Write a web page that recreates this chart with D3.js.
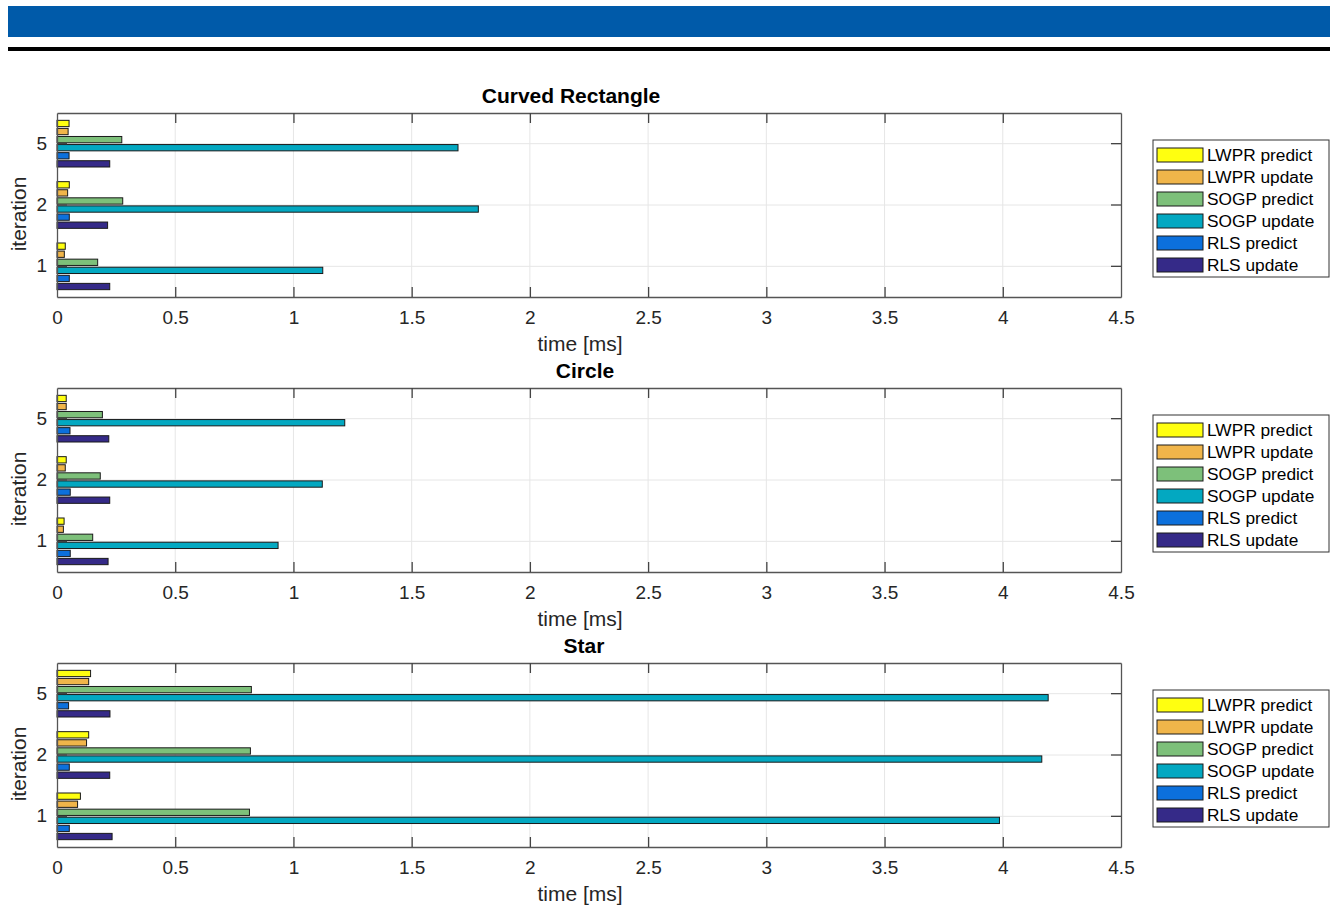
<!DOCTYPE html>
<html>
<head>
<meta charset="utf-8">
<script src="https://cdn.jsdelivr.net/npm/d3@7"></script>
<style>
  body { margin: 0; background: #fff; }
  svg { display: block; font-family: "Liberation Sans", Arial, Helvetica, sans-serif; }
</style>
</head>
<body>
<div id="main"></div>
<script>
// data
var iterations = ["1", "2", "5"];
var seriesNames = ["LWPR predict", "LWPR update", "SOGP predict", "SOGP update", "RLS predict", "RLS update"];
var seriesColors = ["#ffff10", "#f0b54a", "#7dc07a", "#03a8c1", "#0c70dc", "#352a88"];
var panelTitles = ["Curved Rectangle", "Circle", "Star"];
var xTicks = [0, 0.5, 1, 1.5, 2, 2.5, 3, 3.5, 4, 4.5];

// values per series, in iteration order 1, 2, 5
var curvedRect = [
  [0.035, 0.052, 0.051],
  [0.031, 0.045, 0.047],
  [0.172, 0.278, 0.274],
  [1.124, 1.782, 1.696],
  [0.052, 0.052, 0.051],
  [0.223, 0.214, 0.223]
];
var circle = [
  [0.030, 0.039, 0.039],
  [0.027, 0.035, 0.039],
  [0.151, 0.183, 0.192],
  [0.935, 1.122, 1.217],
  [0.056, 0.056, 0.055],
  [0.216, 0.223, 0.219]
];
var star = [
  [0.099, 0.134, 0.142],
  [0.087, 0.125, 0.134],
  [0.814, 0.818, 0.822],
  [3.986, 4.165, 4.192],
  [0.052, 0.052, 0.049],
  [0.233, 0.223, 0.224]
];
var panelData = [curvedRect, circle, star];

var W = 1330, H = 906;
var axLeft = 57, axRight = 1121, axH = 184;
var panelTops = [113, 388, 663];
var titleCenters = [571, 585, 584];
var tickLen = 10;

var svg = d3.select("#main").append("svg")
    .attr("width", W)
    .attr("height", H);

// header band + rule
svg.append("rect").attr("x", 8).attr("y", 6).attr("width", W - 8).attr("height", 31).attr("fill", "#005aa9");
svg.append("rect").attr("x", 8).attr("y", 47).attr("width", W - 8).attr("height", 4).attr("fill", "#000");

var x = d3.scaleLinear().domain([0, 4.5]).range([axLeft, axRight]);

panelData.forEach(function(data, p) {
  var top = panelTops[p], bottom = top + axH;
  var g = svg.append("g");

  var y = d3.scaleBand().domain(iterations).range([bottom, top]).padding(0);
  var step = y.bandwidth() * 0.79;
  var inner = d3.scaleBand().domain(d3.range(seriesNames.length))
      .range([-step / 2, step / 2])
      .paddingInner(0.22)
      .paddingOuter(0.11);

  // background
  g.append("rect").attr("x", axLeft).attr("y", top).attr("width", axRight - axLeft).attr("height", axH).attr("fill", "#fff");

  // grid
  g.selectAll(".vgrid").data(xTicks.slice(1, -1)).enter().append("line")
      .attr("x1", function(d) { return x(d); }).attr("x2", function(d) { return x(d); })
      .attr("y1", top).attr("y2", bottom)
      .attr("stroke", "#e6e6e6").attr("stroke-width", 1);
  g.selectAll(".hgrid").data(iterations).enter().append("line")
      .attr("x1", axLeft).attr("x2", axRight)
      .attr("y1", function(d) { return y(d) + y.bandwidth() / 2; })
      .attr("y2", function(d) { return y(d) + y.bandwidth() / 2; })
      .attr("stroke", "#e6e6e6").attr("stroke-width", 1);

  // bars
  seriesNames.forEach(function(name, s) {
    g.selectAll(".bar" + s).data(data[s]).enter().append("rect")
        .attr("x", x(0))
        .attr("y", function(d, i) { return y(iterations[i]) + y.bandwidth() / 2 + inner(s); })
        .attr("width", function(d) { return x(d) - x(0); })
        .attr("height", inner.bandwidth())
        .attr("fill", seriesColors[s])
        .attr("stroke", "#1a1a1a")
        .attr("stroke-width", 1);
  });

  // axes (ticks inward, box on)
  var xAxisB = d3.axisBottom(x).tickValues(xTicks).tickSizeInner(-tickLen).tickSizeOuter(0).tickPadding(14)
      .tickFormat(d3.format("~g"));
  var gb = g.append("g").attr("transform", "translate(0," + bottom + ")").call(xAxisB);
  var xAxisT = d3.axisTop(x).tickValues(xTicks).tickSizeInner(-tickLen).tickSizeOuter(0).tickFormat("");
  var gt = g.append("g").attr("transform", "translate(0," + top + ")").call(xAxisT);
  var yAxisL = d3.axisLeft(y).tickSizeInner(-tickLen).tickSizeOuter(0).tickPadding(10);
  var gl = g.append("g").attr("transform", "translate(" + axLeft + ",0)").call(yAxisL);
  var yAxisR = d3.axisRight(y).tickSizeInner(-tickLen).tickSizeOuter(0).tickFormat("");
  var gr = g.append("g").attr("transform", "translate(" + axRight + ",0)").call(yAxisR);

  [gb, gt, gl, gr].forEach(function(a) {
    a.select(".domain").attr("stroke", "#555").attr("stroke-width", 1.3);
    a.selectAll(".tick line").attr("stroke", "#444").attr("stroke-width", 1.3);
    a.selectAll(".tick text").attr("fill", "#262626").attr("font-size", 19).attr("font-family", null);
  });
  // remove ticks at the box corners
  [gb, gt].forEach(function(a) {
    a.selectAll(".tick").filter(function(d) { return d === 0 || d === 4.5; }).select("line").remove();
  });

  // labels
  g.append("text").attr("x", titleCenters[p]).attr("y", top - 10)
      .attr("text-anchor", "middle").attr("font-size", 21).attr("font-weight", "bold").attr("fill", "#000")
      .text(panelTitles[p]);
  g.append("text").attr("x", 580).attr("y", bottom + 54)
      .attr("text-anchor", "middle").attr("font-size", 21).attr("fill", "#262626")
      .text("time [ms]");
  g.append("text").attr("transform", "translate(26," + (top + axH / 2 + 9) + ") rotate(-90)")
      .attr("text-anchor", "middle").attr("font-size", 21).attr("fill", "#262626")
      .text("iteration");

  // legend
  var lg = g.append("g").attr("transform", "translate(1153," + (top + 27) + ")");
  lg.append("rect").attr("width", 176).attr("height", 137).attr("fill", "#fff").attr("stroke", "#333").attr("stroke-width", 1);
  var rows = lg.selectAll(".row").data(seriesNames).enter().append("g")
      .attr("transform", function(d, i) { return "translate(0," + (15 + i * 22) + ")"; });
  rows.append("rect").attr("x", 4).attr("y", -7).attr("width", 46).attr("height", 14)
      .attr("fill", function(d, i) { return seriesColors[i]; })
      .attr("stroke", "#1a1a1a").attr("stroke-width", 1);
  rows.append("text").attr("x", 54).attr("y", 0).attr("dy", "0.35em")
      .attr("font-size", 17.3).attr("fill", "#000")
      .text(function(d) { return d; });
});
</script>
</body>
</html>
